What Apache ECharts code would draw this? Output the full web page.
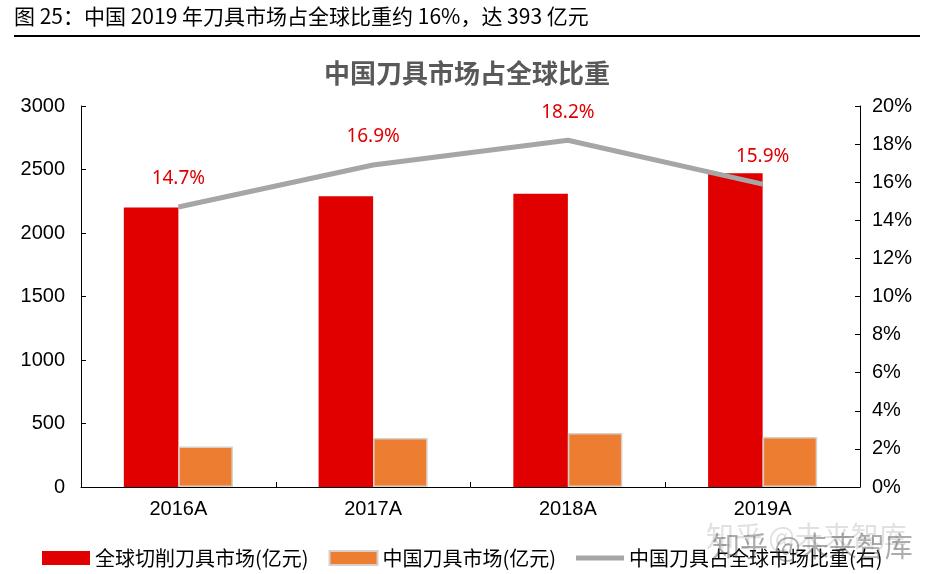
<!DOCTYPE html>
<html>
<head>
<meta charset="utf-8">
<script src="https://cdn.jsdelivr.net/npm/echarts@6/dist/echarts.min.js"></script>
<style>
html,body{margin:0;padding:0;background:#fff;}
#chart{width:934px;height:574px;}
</style>
</head>
<body>
<div id="chart"></div>
<script>
var years=['2016A','2017A','2018A','2019A'];
var globalMarket=[2200,2290,2310,2470];
var chinaMarket=[318,386,425,393];
var chinaShare=[14.7,16.9,18.2,15.9];
var leftTicks=[0,500,1000,1500,2000,2500,3000];

var cn='"Noto Sans CJK SC", "Liberation Sans", sans-serif';
var num='"Liberation Sans", Arial, sans-serif';

var chart=echarts.init(document.getElementById('chart'));
var option={
    backgroundColor:'#fff',
    animation:false,
    title:{
        text:'中国刀具市场占全球比重',
        left:'center',
        top:55,
        textStyle:{fontFamily:cn,fontSize:26,fontWeight:'bold',color:'#595959'}
    },
    graphic:[
        {type:'text',left:14,top:6,style:{text:'图 25：中国 2019 年刀具市场占全球比重约 16%，达 393 亿元',font:'21px '+cn,fill:'#000'}},
        {type:'rect',shape:{x:14,y:35,width:906,height:2},style:{fill:'#000'}},
        // watermark
        {type:'text',left:706,top:522,z:100,style:{text:'知乎 @未来智库',font:'28px '+cn,fill:'rgba(200,200,200,0.55)'}},
        {type:'text',left:712,top:532,z:101,style:{text:'知乎 @未来智库',font:'28px '+cn,fill:'rgba(70,70,70,0.45)'}}
    ],
    legend:{
        left:37,
        top:543,
        itemWidth:48,
        itemHeight:14,
        itemGap:20,
        textStyle:{fontFamily:cn,fontSize:20,color:'#000'},
        data:[
            {name:'全球切削刀具市场(亿元)',icon:'rect'},
            {name:'中国刀具市场(亿元)',icon:'rect'},
            {name:'中国刀具占全球市场比重(右)',icon:'path://M0,0H48V5H0Z'}
        ]
    },
    grid:{left:81,right:74,top:106,bottom:87},
    xAxis:{
        type:'category',
        data:years,
        axisLine:{lineStyle:{color:'#000',width:1}},
        axisTick:{show:true,inside:true,length:5,lineStyle:{color:'#000'}},
        axisLabel:{fontFamily:num,fontSize:20,color:'#000',margin:12}
    },
    yAxis:[
        {
            type:'value',min:leftTicks[0],max:leftTicks[leftTicks.length-1],interval:500,
            axisLine:{show:true,lineStyle:{color:'#000'}},
            axisTick:{show:true,inside:true,length:5,lineStyle:{color:'#000'}},
            splitLine:{show:false},
            axisLabel:{fontFamily:num,fontSize:20,color:'#000',margin:16,formatter:function(v){return String(v);}}
        },
        {
            type:'value',min:0,max:20,interval:2,
            axisLine:{show:true,lineStyle:{color:'#000'}},
            axisTick:{show:true,inside:true,length:5,lineStyle:{color:'#000'}},
            splitLine:{show:false},
            axisLabel:{fontFamily:num,fontSize:20,color:'#000',margin:12,formatter:'{value}%'}
        }
    ],
    series:[
        {
            name:'全球切削刀具市场(亿元)',
            type:'bar',
            data:globalMarket,
            barWidth:'28%',
            barGap:'0%',
            itemStyle:{color:'#E00000'}
        },
        {
            name:'中国刀具市场(亿元)',
            type:'bar',
            data:chinaMarket,
            barWidth:'28%',
            itemStyle:{color:'#ED7D31',borderColor:'#d9cfc7',borderWidth:1.5}
        },
        {
            name:'中国刀具占全球市场比重(右)',
            type:'line',
            yAxisIndex:1,
            data:chinaShare,
            symbol:'circle',
            symbolSize:1,
            showSymbol:true,
            lineStyle:{color:'#A6A6A6',width:5},
            itemStyle:{color:'#A6A6A6'},
            z:5,
            label:{
                show:true,position:'top',distance:18,
                fontFamily:'"Noto Sans", sans-serif',fontSize:19,color:'#E00000',
                formatter:function(p){return p.value.toFixed(1)+'%';}
            }
        }
    ]
};
chart.setOption(option);
</script>
</body>
</html>
